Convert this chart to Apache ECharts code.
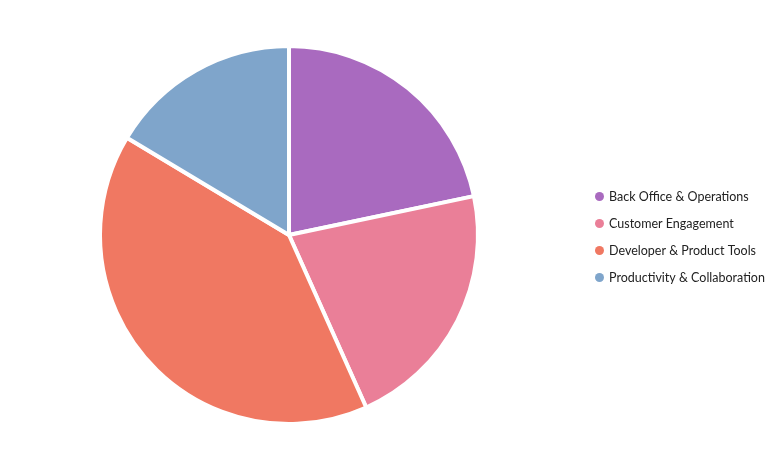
<!DOCTYPE html>
<html><head><meta charset="utf-8">
<script src="https://cdn.jsdelivr.net/npm/echarts@6/dist/echarts.min.js"></script>
<style>html,body{margin:0;padding:0;background:#fff}#c{width:783px;height:453px}</style>
</head><body><div id="c"></div>
<script>
const categories = ["Back Office & Operations","Customer Engagement","Developer & Product Tools","Productivity & Collaboration"];
const values = [21.7, 21.6, 40.3, 16.4];
const colors = ["#a96abf","#ea7f98","#f07862","#7fa5cb"];
const chart = echarts.init(document.getElementById('c'));
chart.setOption({
  animation:false,
  color: colors,
  legend:{orient:'vertical', left:590, top:185, icon:'circle', itemWidth:9, itemHeight:9, itemGap:14, itemStyle:{borderWidth:0},
    textStyle:{fontFamily:'Lato', fontSize:12.5, lineHeight:13, color:'#222'}},
  series:[{type:'pie', center:[289,235], radius:[0,189], startAngle:90, clockwise:true,
    label:{show:false}, labelLine:{show:false},
    itemStyle:{borderColor:'#fff', borderWidth:4},
    emphasis:{disabled:true},
    data: categories.map((c,i)=>({name:c, value:values[i]}))}]
});
</script></body></html>
